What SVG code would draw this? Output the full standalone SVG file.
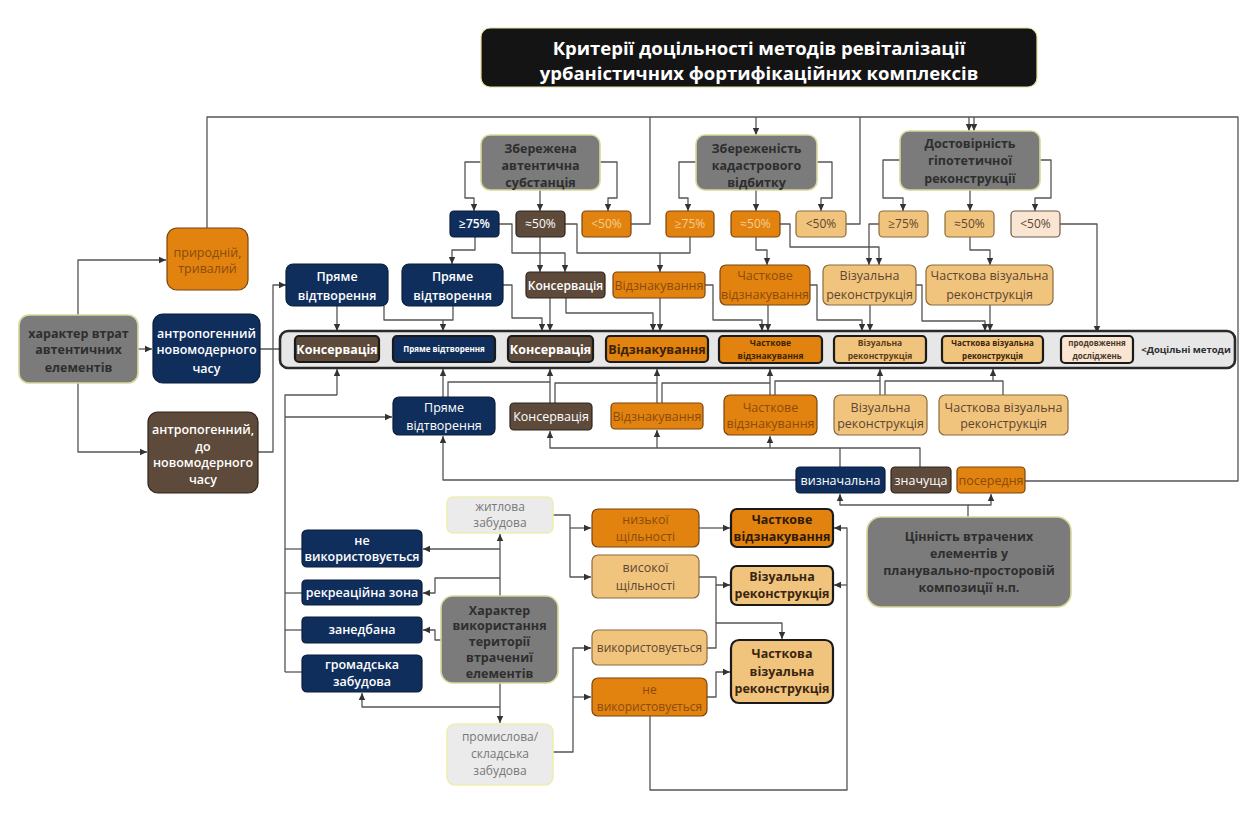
<svg xmlns="http://www.w3.org/2000/svg" width="1242" height="824" viewBox="0 0 1242 824">
<defs>
<marker id="a" markerWidth="8" markerHeight="8" refX="7" refY="4" orient="auto" markerUnits="userSpaceOnUse"><path d="M0,0.8 L7,4 L0,7.2 z" fill="#333"/></marker>
<style>
.t{font-family:'Open Sans','Noto Sans',sans-serif;text-anchor:middle;font-size:12.5px}
.b{font-weight:bold}
.s{font-weight:600}
.w{fill:#fff}
.d{fill:#2e2e2e}
.o{fill:#8a4b0b}
.p{fill:#f6cc92}
.k{fill:#5c4630}
.l{fill:#777}
.g{fill:#7b7b7b;stroke:#d9d79c;stroke-width:1.6}
.nv{fill:#0f2e5c;stroke:#0a1d3a;stroke-width:1.2}
.br{fill:#5d4a3a;stroke:#2f241b;stroke-width:1.2}
.or{fill:#e2830f;stroke:#7a4510;stroke-width:1.2}
.tn{fill:#f1c47e;stroke:#8b6b3c;stroke-width:1.2}
.vl{fill:#f9e5d2;stroke:#6b5a4a;stroke-width:1.2}
.lg{fill:#ebebeb;stroke:#eeeeb0;stroke-width:1.6}
.hb{stroke:#1a1a1a;stroke-width:2.2}
#conn polyline{fill:none;stroke:#555;stroke-width:1.3;stroke-linejoin:round}
#conn .ar{marker-end:url(#a)}
</style>
</defs>
<rect width="1242" height="824" fill="#fff"/>

<g id="conn">
<polyline points="207,228 207,117 1238,117 1238,481 1025,481"/>
<polyline class="ar" points="756,117 756,135"/>
<polyline class="ar" points="969,117 969,131"/>
<polyline class="ar" points="974,117 974,131"/>
<polyline points="631,224 650,224 650,117"/>
<polyline points="846,224 860,224 860,117"/>
<polyline class="ar" points="481,162 465,162 465,198 474,198 474,211"/>
<polyline class="ar" points="540,190 540,211"/>
<polyline class="ar" points="600,162 617,162 617,198 608,198 608,211"/>
<polyline class="ar" points="696,162 679,162 679,198 688,198 688,211"/>
<polyline class="ar" points="756,190 756,211"/>
<polyline class="ar" points="817,162 832,162 832,198 821,198 821,211"/>
<polyline class="ar" points="900,160 883,160 883,198 903,198 903,211"/>
<polyline class="ar" points="970,190 970,211"/>
<polyline class="ar" points="1040,160 1051,160 1051,198 1035,198 1035,211"/>
<polyline class="ar" points="475,237 475,250 452,250 452,264"/>
<polyline class="ar" points="499,224 512,224 512,253 540,253 540,272"/>
<polyline class="ar" points="540,237 540,253 565,253 565,272"/>
<polyline class="ar" points="565,224 577,224 577,253 660,253 660,272"/>
<polyline points="690,237 690,253 660,253"/>
<polyline class="ar" points="756,237 756,250 767,250 767,265"/>
<polyline class="ar" points="780,224 790,224 790,247 879,247 879,265"/>
<polyline class="ar" points="879,224 869,224 869,265"/>
<polyline class="ar" points="970,237 970,250 990,250 990,265"/>
<polyline class="ar" points="1060,224 1097,224 1097,333"/>
<polyline class="ar" points="337,306 337,331"/>
<polyline class="ar" points="384,306 384,320 443,320 443,331"/>
<polyline points="453,306 453,320 443,320"/>
<polyline class="ar" points="503,285 512,285 512,318 542,318 542,331"/>
<polyline class="ar" points="550,298 550,331"/>
<polyline class="ar" points="566,298 566,313 653,313 653,331"/>
<polyline class="ar" points="660,298 660,331"/>
<polyline class="ar" points="705,285 713,285 713,320 762,320 762,331"/>
<polyline class="ar" points="768,305 768,331"/>
<polyline class="ar" points="810,285 817,285 817,320 862,320 862,331"/>
<polyline class="ar" points="870,305 870,331"/>
<polyline class="ar" points="916,285 922,285 922,321 985,321 985,331"/>
<polyline class="ar" points="990,305 990,331"/>
<polyline class="ar" points="393,349 381,349"/>
<polyline class="ar" points="495,349 507,349"/>
<polyline class="ar" points="593,349 605,349"/>
<polyline class="ar" points="708,349 718,349"/>
<polyline class="ar" points="822,349 833,349"/>
<polyline class="ar" points="926,349 941,349"/>
<polyline class="ar" points="1043,349 1060,349"/>
<polyline class="ar" points="78,315 78,260 166,260"/>
<polyline class="ar" points="78,383 78,452 147,452"/>
<polyline class="ar" points="138,349 152,349"/>
<polyline class="ar" points="260,349 294,349"/>
<polyline class="ar" points="258,452 273,452 273,285 286,285"/>
<polyline class="ar" points="443,397 443,369"/>
<polyline points="448,397 448,382 550,382"/>
<polyline class="ar" points="550,403 550,369"/>
<polyline points="555,403 555,383 657,383"/>
<polyline class="ar" points="657,403 657,369"/>
<polyline points="662,403 662,383 770,383"/>
<polyline class="ar" points="770,395 770,369"/>
<polyline points="775,395 775,381 880,381"/>
<polyline class="ar" points="880,395 880,369"/>
<polyline points="885,395 885,381 1003,381 1003,395"/>
<polyline class="ar" points="993,381 993,369"/>
<polyline class="ar" points="796,480 443,480 443,436"/>
<polyline class="ar" points="920,467 920,448 550,448 550,431"/>
<polyline class="ar" points="657,448 657,430"/>
<polyline class="ar" points="770,448 770,436"/>
<polyline points="840,467 840,448"/>
<polyline class="ar" points="968,517 968,505 840,505 840,494"/>
<polyline class="ar" points="968,505 991,505 991,494"/>
<polyline points="285,672 285,395 337,395"/>
<polyline class="ar" points="337,395 337,369"/>
<polyline class="ar" points="285,417 392,417"/>
<polyline points="285,549 302,549"/>
<polyline points="285,593 302,593"/>
<polyline points="285,630 302,630"/>
<polyline points="285,672 302,672"/>
<polyline class="ar" points="500,596 500,534"/>
<polyline class="ar" points="500,549 423,549"/>
<polyline class="ar" points="500,578 435,578 435,593 423,593"/>
<polyline class="ar" points="441,640 435,640 435,630 423,630"/>
<polyline class="ar" points="500,683 500,723"/>
<polyline class="ar" points="500,707 362,707 362,693"/>
<polyline class="ar" points="553,515 570,515 570,577 591,577"/>
<polyline class="ar" points="570,528 591,528"/>
<polyline class="ar" points="553,752 573,752 573,648 591,648"/>
<polyline class="ar" points="573,697 591,697"/>
<polyline class="ar" points="699,528 730,528"/>
<polyline class="ar" points="699,577 716,577 716,585 730,585"/>
<polyline points="707,648 716,648 716,585"/>
<polyline class="ar" points="716,623 782,623 782,639"/>
<polyline class="ar" points="707,697 716,697 716,672 730,672"/>
<polyline class="ar" points="650,716 650,790 847,790 847,528 834,528"/>
<polyline class="ar" points="847,585 834,585"/>
</g>

<g id="title">
<rect x="481" y="28" width="556" height="59" rx="9" fill="#141414" stroke="#e6dfa0" stroke-width="1.2"/>
<text class="t b w" x="759" y="55" style="font-size:18.5px">Критерії доцільності методів ревіталізації</text>
<text class="t b w" x="759" y="80" style="font-size:18.5px">урбаністичних фортифікаційних комплексів</text>
</g>

<g id="crit1"><rect class="g" x="481" y="135" width="119" height="55" rx="9"/>
<text class="t b d" x="540.5" y="152.5"><tspan x="540.5">Збережена</tspan><tspan x="540.5" dy="17">автентична</tspan><tspan x="540.5" dy="17">субстанція</tspan></text></g>
<g id="crit2"><rect class="g" x="696" y="135" width="121" height="55" rx="9"/>
<text class="t b d" x="756.5" y="152.5"><tspan x="756.5">Збереженість</tspan><tspan x="756.5" dy="17">кадастрового</tspan><tspan x="756.5" dy="17">відбитку</tspan></text></g>
<g id="crit3"><rect class="g" x="900" y="131" width="140" height="59" rx="9"/>
<text class="t b d" x="970" y="147.5"><tspan x="970">Достовірність</tspan><tspan x="970" dy="17.5">гіпотетичної</tspan><tspan x="970" dy="17.5">реконструкції</tspan></text></g>

<g id="p1"><rect class="nv" x="450" y="211" width="49" height="26" rx="4"/><text class="t s w" x="474.5" y="228" style="font-size:12px">≥75%</text></g>
<g id="p2"><rect class="br" x="516" y="211" width="49" height="26" rx="4"/><text class="t w" x="540.5" y="228" style="font-size:12px">≈50%</text></g>
<g id="p3"><rect class="or" x="582" y="211" width="49" height="26" rx="4"/><text class="t p" x="606.5" y="228" style="font-size:12px">&lt;50%</text></g>
<g id="p4"><rect class="or" x="666" y="211" width="48" height="26" rx="4"/><text class="t p" x="690" y="228" style="font-size:12px">≥75%</text></g>
<g id="p5"><rect class="or" x="731" y="211" width="49" height="26" rx="4"/><text class="t p" x="755.5" y="228" style="font-size:12px">≈50%</text></g>
<g id="p6"><rect class="tn" x="796" y="211" width="50" height="26" rx="4"/><text class="t k" x="821" y="228" style="font-size:12px">&lt;50%</text></g>
<g id="p7"><rect class="tn" x="879" y="211" width="49" height="26" rx="4"/><text class="t k" x="903.5" y="228" style="font-size:12px">≥75%</text></g>
<g id="p8"><rect class="tn" x="945" y="211" width="49" height="26" rx="4"/><text class="t k" x="969.5" y="228" style="font-size:12px">≈50%</text></g>
<g id="p9"><rect class="vl" x="1011" y="211" width="49" height="26" rx="4"/><text class="t k" x="1035.5" y="228" style="font-size:12px">&lt;50%</text></g>

<g id="r2a"><rect class="nv" x="286" y="264" width="102" height="42" rx="7"/><text class="t s w" x="337" y="280.5"><tspan x="337">Пряме</tspan><tspan x="337" dy="19">відтворення</tspan></text></g>
<g id="r2b"><rect class="nv" x="402" y="264" width="101" height="42" rx="7"/><text class="t s w" x="452.5" y="280.5"><tspan x="452.5">Пряме</tspan><tspan x="452.5" dy="19">відтворення</tspan></text></g>
<g id="r2c"><rect class="br" x="526" y="272" width="79" height="26" rx="4"/><text class="t s w" x="565.5" y="289.5" style="font-size:12px">Консервація</text></g>
<g id="r2d"><rect class="or" x="613" y="272" width="92" height="26" rx="4"/><text class="t o" x="659" y="289.5">Відзнакування</text></g>
<g id="r2e"><rect class="or" x="720" y="265" width="90" height="40" rx="6"/><text class="t o" x="765" y="280"><tspan x="765">Часткове</tspan><tspan x="765" dy="19">відзнакування</tspan></text></g>
<g id="r2f"><rect class="tn" x="823" y="265" width="93" height="40" rx="6"/><text class="t k" x="869.5" y="280"><tspan x="869.5">Візуальна</tspan><tspan x="869.5" dy="19">реконструкція</tspan></text></g>
<g id="r2g"><rect class="tn" x="926" y="265" width="127" height="40" rx="6"/><text class="t k" x="989.5" y="280"><tspan x="989.5">Часткова візуальна</tspan><tspan x="989.5" dy="19">реконструкція</tspan></text></g>

<g id="main">
<rect x="280" y="331" width="955" height="37" rx="8" fill="#e7e7e7" stroke="#2a2a2a" stroke-width="2.6"/>
<text class="t b d" x="1186" y="353" style="font-size:9.5px">&lt;Доцільні методи</text>
</g>
<g id="m1"><rect class="br hb" x="295" y="336" width="84" height="26" rx="4"/><text class="t b w" x="337" y="353.5">Консервація</text></g>
<g id="m2"><rect class="nv hb" x="393" y="336" width="102" height="26" rx="4"/><text class="t b w" x="444" y="352" style="font-size:8px">Пряме відтворення</text></g>
<g id="m3"><rect class="br hb" x="508" y="336" width="85" height="26" rx="4"/><text class="t b w" x="550.5" y="353.5">Консервація</text></g>
<g id="m4"><rect class="or hb" x="606" y="336" width="102" height="26" rx="4"/><text class="t b" fill="#3a2208" x="657" y="353.5">Відзнакування</text></g>
<g id="m5"><rect class="or hb" x="719" y="336" width="103" height="27" rx="4"/><text class="t b" fill="#3a2208" x="770.5" y="346" style="font-size:8.5px"><tspan x="770.5">Часткове</tspan><tspan x="770.5" dy="12.5">відзнакування</tspan></text></g>
<g id="m6"><rect class="tn hb" x="834" y="336" width="92" height="27" rx="4"/><text class="t b" fill="#5c3d18" x="880" y="346" style="font-size:8.5px"><tspan x="880">Візуальна</tspan><tspan x="880" dy="12.5">реконструкція</tspan></text></g>
<g id="m7"><rect class="tn hb" x="942" y="336" width="101" height="27" rx="4"/><text class="t b" fill="#3a2208" x="992.5" y="346" style="font-size:8px"><tspan x="992.5">Часткова візуальна</tspan><tspan x="992.5" dy="12.5">реконструкція</tspan></text></g>
<g id="m8"><rect class="vl hb" x="1061" y="336" width="72" height="27" rx="4"/><text class="t b" fill="#4a3828" x="1097" y="346" style="font-size:8px"><tspan x="1097">продовження</tspan><tspan x="1097" dy="12.5">досліджень</tspan></text></g>

<g id="loss"><rect class="g" x="19" y="315" width="119" height="68" rx="10"/>
<text class="t b d" x="78.5" y="337.5"><tspan x="78.5">характер втрат</tspan><tspan x="78.5" dy="16.5">автентичних</tspan><tspan x="78.5" dy="17.5">елементів</tspan></text></g>
<g id="natural"><rect class="or" x="167" y="228" width="81" height="62" rx="10"/>
<text class="t o" x="207.5" y="256.5"><tspan x="207.5">природній,</tspan><tspan x="207.5" dy="16.5">тривалий</tspan></text></g>
<g id="anthro1"><rect class="nv" x="153" y="314" width="107" height="69" rx="10"/>
<text class="t s w" x="206.5" y="337.5"><tspan x="206.5">антропогенний</tspan><tspan x="206.5" dy="16.5">новомодерного</tspan><tspan x="206.5" dy="18.5">часу</tspan></text></g>
<g id="anthro2"><rect class="br" x="148" y="412" width="110" height="81" rx="10"/>
<text class="t s w" x="203" y="433.5"><tspan x="203">антропогенний,</tspan><tspan x="203" dy="17">до</tspan><tspan x="203" dy="16.5">новомодерного</tspan><tspan x="203" dy="16.5">часу</tspan></text></g>

<g id="b1"><rect class="nv" x="393" y="397" width="102" height="38" rx="6"/><text class="t w" x="444" y="412"><tspan x="444">Пряме</tspan><tspan x="444" dy="18">відтворення</tspan></text></g>
<g id="b2"><rect class="br" x="510" y="403" width="82" height="27" rx="4"/><text class="t w" x="551" y="421">Консервація</text></g>
<g id="b3"><rect class="or" x="611" y="403" width="92" height="26" rx="4"/><text class="t o" x="657" y="420.5">Відзнакування</text></g>
<g id="b4"><rect class="or" x="724" y="395" width="93" height="40" rx="6"/><text class="t o" x="770.5" y="411.5"><tspan x="770.5">Часткове</tspan><tspan x="770.5" dy="16.5">відзнакування</tspan></text></g>
<g id="b5"><rect class="tn" x="834" y="395" width="93" height="40" rx="6"/><text class="t k" x="880.5" y="411.5"><tspan x="880.5">Візуальна</tspan><tspan x="880.5" dy="16.5">реконструкція</tspan></text></g>
<g id="b6"><rect class="tn" x="939" y="395" width="129" height="40" rx="6"/><text class="t k" x="1003.5" y="411.5"><tspan x="1003.5">Часткова візуальна</tspan><tspan x="1003.5" dy="16.5">реконструкція</tspan></text></g>

<g id="s1"><rect class="nv" x="796" y="467" width="89" height="26" rx="4"/><text class="t w" x="840.5" y="484.5">визначальна</text></g>
<g id="s2"><rect class="br" x="891" y="467" width="60" height="26" rx="4"/><text class="t w" x="921" y="484.5">значуща</text></g>
<g id="s3"><rect class="or" x="957" y="467" width="68" height="26" rx="4"/><text class="t o" x="991" y="484.5">посередня</text></g>
<g id="value"><rect class="g" x="867" y="517" width="204" height="90" rx="14"/>
<text class="t b d" x="969" y="540.5"><tspan x="969">Цінність втрачених</tspan><tspan x="969" dy="17">елементів у</tspan><tspan x="969" dy="17">планувально-просторовій</tspan><tspan x="969" dy="17">композиції н.п.</tspan></text></g>

<g id="usage"><rect class="g" x="441" y="596" width="117" height="87" rx="12"/>
<text class="t b d" x="499.5" y="614.5"><tspan x="499.5">Характер</tspan><tspan x="499.5" dy="15.5">використання</tspan><tspan x="499.5" dy="16">території</tspan><tspan x="499.5" dy="16">втрачениї</tspan><tspan x="499.5" dy="16">елементів</tspan></text></g>
<g id="resid"><rect class="lg" x="447" y="497" width="106" height="36" rx="6"/><text class="t l" x="500" y="511" style="font-size:12px"><tspan x="500">житлова</tspan><tspan x="500" dy="16">забудова</tspan></text></g>
<g id="indus"><rect class="lg" x="447" y="724" width="106" height="61" rx="8"/><text class="t l" x="500" y="741" style="font-size:12px"><tspan x="500">промислова/</tspan><tspan x="500" dy="17">складська</tspan><tspan x="500" dy="17">забудова</tspan></text></g>
<g id="n1"><rect class="nv" x="302" y="530" width="120" height="37" rx="5"/><text class="t s w" x="362" y="545"><tspan x="362">не</tspan><tspan x="362" dy="16">використовується</tspan></text></g>
<g id="n2"><rect class="nv" x="302" y="580" width="120" height="25" rx="4"/><text class="t s w" x="362" y="597">рекреаційна зона</text></g>
<g id="n3"><rect class="nv" x="302" y="617" width="120" height="26" rx="4"/><text class="t s w" x="362" y="634">занедбана</text></g>
<g id="n4"><rect class="nv" x="302" y="655" width="120" height="37" rx="5"/><text class="t s w" x="362" y="669"><tspan x="362">громадська</tspan><tspan x="362" dy="17">забудова</tspan></text></g>

<g id="q1"><rect class="or" x="592" y="509" width="107" height="38" rx="6"/><text class="t o" x="645.5" y="524"><tspan x="645.5">низької</tspan><tspan x="645.5" dy="17">щільності</tspan></text></g>
<g id="q2"><rect class="tn" x="592" y="555" width="107" height="43" rx="6"/><text class="t k" x="645.5" y="572"><tspan x="645.5">високої</tspan><tspan x="645.5" dy="18">щільності</tspan></text></g>
<g id="q3"><rect class="tn" x="592" y="630" width="115" height="35" rx="6"/><text class="t k" x="649.5" y="652" style="font-size:12px">використовується</text></g>
<g id="q4"><rect class="or" x="592" y="678" width="115" height="38" rx="6"/><text class="t o" x="649.5" y="694" style="font-size:12px"><tspan x="649.5">не</tspan><tspan x="649.5" dy="17">використовується</tspan></text></g>
<g id="t1"><rect class="or hb" x="731" y="509" width="102" height="38" rx="6"/><text class="t b" fill="#2e1a06" x="782" y="524"><tspan x="782">Часткове</tspan><tspan x="782" dy="17">відзнакування</tspan></text></g>
<g id="t2"><rect class="tn hb" x="731" y="566" width="102" height="39" rx="6"/><text class="t b" fill="#3a2410" x="782" y="581"><tspan x="782">Візуальна</tspan><tspan x="782" dy="17">реконструкція</tspan></text></g>
<g id="t3"><rect class="tn hb" x="731" y="640" width="102" height="63" rx="8"/><text class="t b" fill="#3a2410" x="782" y="658"><tspan x="782">Часткова</tspan><tspan x="782" dy="17.5">візуальна</tspan><tspan x="782" dy="17.5">реконструкція</tspan></text></g>
</svg>
